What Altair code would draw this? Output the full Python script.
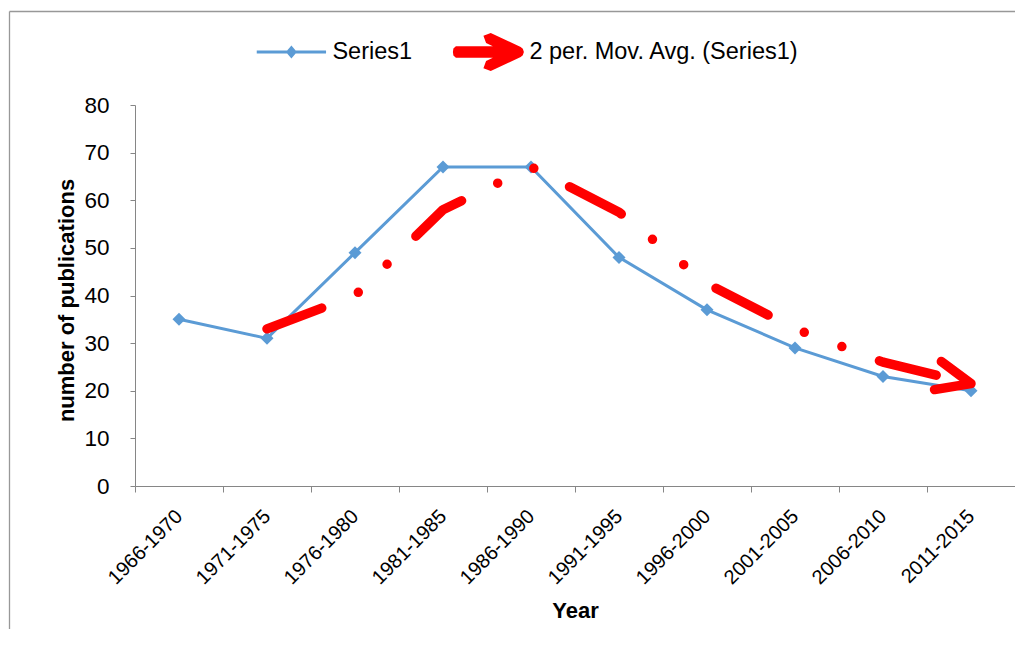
import math
import altair as alt
import pandas as pd

# ---------------- data ----------------
periods = ["1966-1970", "1971-1975", "1976-1980", "1981-1985", "1986-1990",
           "1991-1995", "1996-2000", "2001-2005", "2006-2010", "2011-2015"]
series1 = [35, 31, 49, 67, 67, 48, 37, 29, 23, 20]
ma_periods = ["1971-1975", "1976-1980", "1981-1985", "1986-1990", "1991-1995",
              "1996-2000", "2001-2005", "2006-2010", "2011-2015"]
ma_values = [33, 40, 58, 67, 57.5, 42.5, 33, 26, 21.5]
legend_names = ["Series1", "2 per. Mov. Avg. (Series1)"]
y_ticks = [0, 10, 20, 30, 40, 50, 60, 70, 80]

# ---------------- styling ----------------
W, H = 880, 381
Y_MAX = 80
BLUE = "#5B9BD5"
RED = "#FF0000"
GRAY = "#868686"
FONT = "Liberation Sans"

df_s1 = pd.DataFrame({"period": periods, "value": series1})
df_ma = pd.DataFrame({"period": ma_periods, "value": ma_values})
df_end = df_ma.tail(1)
df_legend = pd.DataFrame({"series": legend_names})

# direction of the last moving-average segment in screen space (for the arrow head)
band = W / len(periods)
dy_px = (ma_values[-2] - ma_values[-1]) * H / Y_MAX
arrow_angle = math.degrees(math.atan2(dy_px, band))

x_enc = alt.X(
    "period:N",
    sort=periods,
    scale=alt.Scale(type="band", domain=periods, paddingInner=0, paddingOuter=0),
    axis=alt.Axis(
        title="Year", tickBand="extent", labelAngle=-45, labelAlign="right",
        labelBaseline="middle", labelPadding=21, labelFontSize=20,
        tickSize=6, titleX=W / 2, titleY=131.5, titleAlign="center",
        titleBaseline="alphabetic", titleAnchor="middle",
    ),
)
y_enc = alt.Y(
    "value:Q",
    scale=alt.Scale(domain=[0, Y_MAX], nice=False, zero=True),
    axis=alt.Axis(
        title="number of publications", values=y_ticks, grid=False,
        labelFontSize=22.5, labelPadding=21, tickSize=5,
        titleAngle=-90, titleX=-62, titleY=195, titleAlign="center",
        titleBaseline="alphabetic",
    ),
)

one = pd.DataFrame({"f": [0]})
frame_top = alt.Chart(one).mark_rule(color="#989898", strokeWidth=1.3).encode(
    x=alt.value(-125.5), x2=alt.value(W + 300), y=alt.value(-93.5),
)
frame_left = alt.Chart(one).mark_rule(color="#989898", strokeWidth=1.3).encode(
    x=alt.value(-125.5), y=alt.value(-93.5), y2=alt.value(H + 300),
)

s1_line = alt.Chart(df_s1).mark_line(color=BLUE, strokeWidth=3).encode(x=x_enc, y=y_enc)
s1_pts = alt.Chart(df_s1).mark_point(
    shape="diamond", filled=True, size=169, color=BLUE, opacity=1
).encode(x=x_enc, y=y_enc)

ma_line = alt.Chart(df_ma).mark_line(
    color=RED, strokeWidth=9.5, strokeCap="round", strokeJoin="round",
    strokeDash=[58.5, 40.2, 0, 40.2, 0, 40.2],
).encode(x=x_enc, y=y_enc)

arrow_path = "M-0.92,-0.39 L0,0 L-0.92,0.39"
arrow = alt.Chart(df_end).mark_point(
    shape=arrow_path, filled=False, size=5476, strokeWidth=9.5, color=RED,
    opacity=1, angle=arrow_angle, strokeCap="round", strokeJoin="round",
).encode(x=x_enc, y=y_enc)

# legend symbols (filled outlines, unit box -1..1); the degenerate sub-paths
# give both symbols the same bounding box so the entries line up
bounds = " M-1.014,-0.542 L-1.014,-0.542 Z M1.014,0.542 L1.014,0.542 Z"
leg_blue = ("M-0.99,-0.043 L-0.121,-0.043 L0,-0.186 L0.121,-0.043 L0.99,-0.043 "
            "L0.99,0.043 L0.121,0.043 L0,0.186 L-0.121,0.043 L-0.99,0.043 Z" + bounds)
leg_red = ("M-0.929,-0.167 L0.127,-0.167 L-0.067,-0.258 L-0.142,-0.467 L0.067,-0.542 "
           "L0.923,-0.142 L0.983,-0.094 L1.014,0 L0.983,0.094 L0.923,0.142 "
           "L0.067,0.542 L-0.142,0.467 L-0.067,0.258 L0.127,0.167 L-0.929,0.167 "
           "L-1,0.1 L-1.014,0 L-1,-0.1 Z" + bounds)

legend_cfg = dict(
    orient="none", legendX=121.4, legendY=-88, direction="horizontal",
    title=None, symbolSize=4900, symbolStrokeWidth=0, labelFont=FONT,
    labelFontSize=23.5, labelColor="#000000", labelOffset=6, columnPadding=40,
    labelLimit=500, padding=0,
)

legend_layer = alt.Chart(df_legend).mark_point(
    filled=True, opacity=1, clip=True, size=10
).encode(
    x=alt.value(-2000), y=alt.value(-2000),
    color=alt.Color("series:N", sort=legend_names,
                    scale=alt.Scale(domain=legend_names, range=[BLUE, RED]),
                    legend=alt.Legend(**legend_cfg)),
    shape=alt.Shape("series:N", sort=legend_names,
                    scale=alt.Scale(domain=legend_names, range=[leg_blue, leg_red]),
                    legend=alt.Legend(**legend_cfg)),
)

chart = alt.layer(frame_top, frame_left, s1_line, s1_pts, ma_line, arrow,
                  legend_layer).properties(
    width=W, height=H,
    padding={"left": 127, "top": 97, "right": 0, "bottom": 143},
    autosize=alt.AutoSizeParams(type="none"),
    background="#ffffff",
).configure_view(stroke=None).configure_axis(
    domainColor=GRAY, tickColor=GRAY, domainWidth=1, tickWidth=1,
    labelFont=FONT, labelColor="#000000", titleFont=FONT, titleFontSize=22,
    titleFontWeight="bold", titleColor="#000000",
).configure_legend(labelFont=FONT)

chart.save("out.html", embed_options={"renderer": "svg", "actions": False})
